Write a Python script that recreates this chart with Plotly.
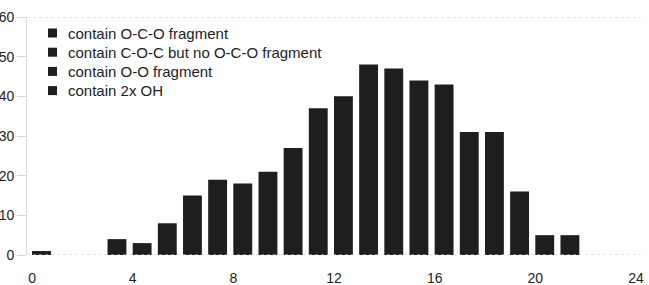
import plotly.graph_objects as go

categories = list(range(22))
counts = [1, 0, 0, 4, 3, 8, 15, 19, 18, 21, 27, 37, 40, 48, 47, 44, 43, 31, 31, 16, 5, 5]
series_names = [
    "contain O-C-O fragment",
    "contain C-O-C but no O-C-O fragment",
    "contain O-O fragment",
    "contain 2x OH",
]
x_ticks = [0, 4, 8, 12, 16, 20, 24]
y_ticks = [0, 10, 20, 30, 40, 50, 60]

W, H = 649, 285
ML, MR, MT, MB = 27, 8, 17, 30
PW, PH = W - ML - MR, H - MT - MB

bar_color = "#1e1e1e"
fig = go.Figure()
fig.add_trace(go.Bar(x=categories, y=counts, name=series_names[0],
                     marker=dict(color=bar_color, line=dict(width=0)),
                     offset=0, width=0.75, showlegend=False))
for nm in series_names[1:]:
    fig.add_trace(go.Bar(x=categories, y=[None] * len(categories), name=nm,
                         marker=dict(color=bar_color, line=dict(width=0)),
                         offset=0, width=0.75, showlegend=False))

# manual legend (tight row spacing like the reference)
def px2x(px):
    return (px - ML) / PW

def py2y(py):
    return 1 - (py - MT) / PH

row0, row_gap = 33, 19.2
for i, nm in enumerate(series_names):
    cy = row0 + i * row_gap
    fig.add_shape(type="rect", xref="paper", yref="paper",
                  x0=px2x(48), x1=px2x(57), y0=py2y(cy + 4.5), y1=py2y(cy - 4.5),
                  fillcolor=bar_color, line=dict(width=0), layer="above")
    fig.add_annotation(xref="paper", yref="paper", x=px2x(66), y=py2y(cy),
                       text=nm, showarrow=False, xanchor="left", yanchor="middle",
                       font=dict(size=15, color="#222"))

fig.update_layout(
    width=W, height=H,
    margin=dict(l=ML, r=MR, t=MT, b=MB),
    plot_bgcolor="white", paper_bgcolor="white",
    barmode="overlay",
    font=dict(family="Liberation Sans, Arial, sans-serif", size=13, color="#222"),
    showlegend=False,
    xaxis=dict(range=[-0.2, 24.2], tickvals=x_ticks, ticktext=[str(v) for v in x_ticks],
               showgrid=False, zeroline=False, showline=False, automargin=False,
               ticks="outside", ticklen=10, tickcolor="rgba(0,0,0,0)",
               tickfont=dict(size=14)),
    yaxis=dict(range=[0, 60], tickvals=y_ticks, showgrid=False, zeroline=False,
               showline=True, linecolor="#dddddd", linewidth=1, automargin=False,
               ticks="outside", ticklen=9, tickcolor="#d8d8d8",
               tickfont=dict(size=14)),
)
# dotted frame lines at top and baseline
fig.add_hline(y=60, line=dict(color="#cccccc", width=1, dash="dot"))
fig.add_hline(y=0, line=dict(color="#cccccc", width=1, dash="dot"))

fig.write_html("out.html", config={"displayModeBar": False},
               post_script="document.body.style.margin='0';document.body.style.overflow='hidden';")
